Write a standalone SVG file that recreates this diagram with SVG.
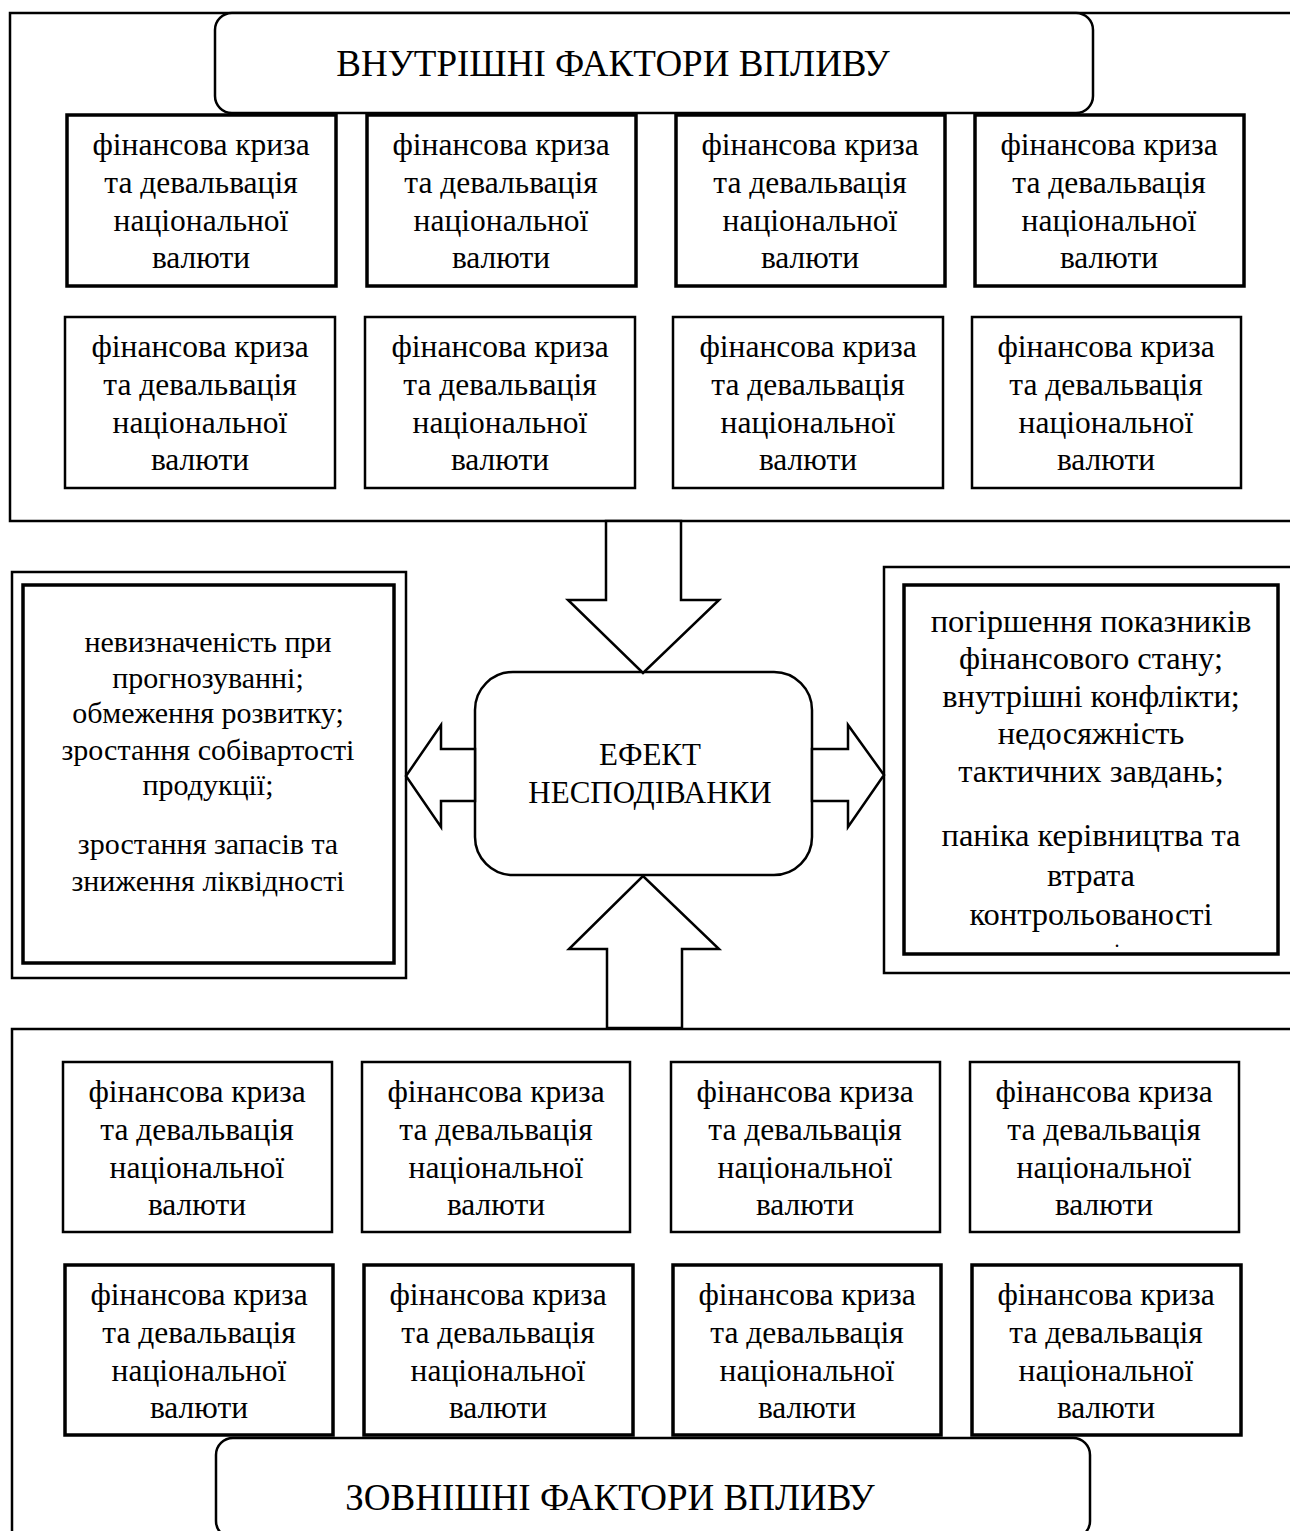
<svg xmlns="http://www.w3.org/2000/svg" width="1290" height="1531" viewBox="0 0 1290 1531">
<style>
.ln{fill:none;stroke:#000;stroke-width:2.5}
.bx{fill:#fff;stroke:#000;stroke-width:2.5}
.bx3{fill:#fff;stroke:#000;stroke-width:3.5}
.ar{fill:#fff;stroke:#000;stroke-width:2.5;stroke-linejoin:miter}
text{font-family:'Liberation Serif','DejaVu Serif',serif;fill:#000;text-anchor:middle}
.t{font-size:31.5px}
.l{font-size:30px}
.r{font-size:32.5px}
.h{font-size:37px}
.c{font-size:31px}
.d{font-size:20px}
</style>
<rect width="1290" height="1531" fill="#fff"/>
<g id="internal-frame">
<path class="ln" d="M1300,13 H10 V521 H1300"/>
</g>
<g id="internal-title">
<rect class="bx" x="215" y="13" width="878" height="100" rx="17"/>
<text class="h" x="613" y="76">ВНУТРІШНІ ФАКТОРИ ВПЛИВУ</text>
</g>
<g id="in1"><rect class="bx3" x="67" y="115" width="269" height="171"/><text class="t"><tspan x="201" y="155">фінансова криза</tspan><tspan x="201" y="193">та девальвація</tspan><tspan x="201" y="231">національної</tspan><tspan x="201" y="268">валюти</tspan></text></g>
<g id="in2"><rect class="bx3" x="367" y="115" width="269" height="171"/><text class="t"><tspan x="501" y="155">фінансова криза</tspan><tspan x="501" y="193">та девальвація</tspan><tspan x="501" y="231">національної</tspan><tspan x="501" y="268">валюти</tspan></text></g>
<g id="in3"><rect class="bx3" x="676" y="115" width="269" height="171"/><text class="t"><tspan x="810" y="155">фінансова криза</tspan><tspan x="810" y="193">та девальвація</tspan><tspan x="810" y="231">національної</tspan><tspan x="810" y="268">валюти</tspan></text></g>
<g id="in4"><rect class="bx3" x="975" y="115" width="269" height="171"/><text class="t"><tspan x="1109" y="155">фінансова криза</tspan><tspan x="1109" y="193">та девальвація</tspan><tspan x="1109" y="231">національної</tspan><tspan x="1109" y="268">валюти</tspan></text></g>
<g id="in5"><rect class="bx" x="65" y="317" width="270" height="171"/><text class="t"><tspan x="200" y="357">фінансова криза</tspan><tspan x="200" y="395">та девальвація</tspan><tspan x="200" y="433">національної</tspan><tspan x="200" y="470">валюти</tspan></text></g>
<g id="in6"><rect class="bx" x="365" y="317" width="270" height="171"/><text class="t"><tspan x="500" y="357">фінансова криза</tspan><tspan x="500" y="395">та девальвація</tspan><tspan x="500" y="433">національної</tspan><tspan x="500" y="470">валюти</tspan></text></g>
<g id="in7"><rect class="bx" x="673" y="317" width="270" height="171"/><text class="t"><tspan x="808" y="357">фінансова криза</tspan><tspan x="808" y="395">та девальвація</tspan><tspan x="808" y="433">національної</tspan><tspan x="808" y="470">валюти</tspan></text></g>
<g id="in8"><rect class="bx" x="972" y="317" width="269" height="171"/><text class="t"><tspan x="1106" y="357">фінансова криза</tspan><tspan x="1106" y="395">та девальвація</tspan><tspan x="1106" y="433">національної</tspan><tspan x="1106" y="470">валюти</tspan></text></g>

<g id="left-effects">
<rect class="bx" x="12" y="572" width="394" height="406"/>
<rect class="bx3" x="23" y="585" width="371" height="378"/>
<text class="l"><tspan x="208" y="652">невизначеність при</tspan><tspan x="208" y="688">прогнозуванні;</tspan><tspan x="208" y="723">обмеження розвитку;</tspan><tspan x="208" y="760">зростання собівартості</tspan><tspan x="208" y="795">продукції;</tspan><tspan x="208" y="854">зростання запасів та</tspan><tspan x="208" y="891">зниження ліквідності</tspan></text>
</g>
<g id="right-effects">
<path class="ln" d="M1300,567 H884 V973 H1300"/>
<rect class="bx3" x="904" y="585" width="374" height="369"/>
<text class="r"><tspan x="1091" y="632">погіршення показників</tspan><tspan x="1091" y="669">фінансового стану;</tspan><tspan x="1091" y="707">внутрішні конфлікти;</tspan><tspan x="1091" y="744">недосяжність</tspan><tspan x="1091" y="782">тактичних завдань;</tspan><tspan x="1091" y="846">паніка керівництва та</tspan><tspan x="1091" y="886">втрата</tspan><tspan x="1091" y="925">контрольованості</tspan></text>
<text class="d" x="1117" y="947">.</text>
</g>
<g id="surprise-effect">
<rect class="bx" x="475" y="672" width="337" height="203" rx="38"/>
<text class="c"><tspan x="650" y="765">ЕФЕКТ</tspan><tspan x="650" y="803">НЕСПОДІВАНКИ</tspan></text>
</g>

<g id="connectors">
<polygon class="ar" points="606,521 681,521 681,600 719,600 643,673 568,600 606,600"/>
<polygon class="ar" points="607,1028 682,1028 682,949 719,949 643,876 569,949 607,949"/>
<polygon class="ar" points="475,749 441,749 441,725 406,776 441,827 441,801 475,801"/>
<polygon class="ar" points="812,749 848,749 848,725 884,775 848,827 848,801 812,801"/>
</g>

<g id="external-frame">
<path class="ln" d="M1300,1029 H12 V1545"/>
</g>
<g id="ex1"><rect class="bx" x="63" y="1062" width="269" height="170"/><text class="t"><tspan x="197" y="1102">фінансова криза</tspan><tspan x="197" y="1140">та девальвація</tspan><tspan x="197" y="1178">національної</tspan><tspan x="197" y="1215">валюти</tspan></text></g>
<g id="ex2"><rect class="bx" x="362" y="1062" width="268" height="170"/><text class="t"><tspan x="496" y="1102">фінансова криза</tspan><tspan x="496" y="1140">та девальвація</tspan><tspan x="496" y="1178">національної</tspan><tspan x="496" y="1215">валюти</tspan></text></g>
<g id="ex3"><rect class="bx" x="671" y="1062" width="269" height="170"/><text class="t"><tspan x="805" y="1102">фінансова криза</tspan><tspan x="805" y="1140">та девальвація</tspan><tspan x="805" y="1178">національної</tspan><tspan x="805" y="1215">валюти</tspan></text></g>
<g id="ex4"><rect class="bx" x="970" y="1062" width="269" height="170"/><text class="t"><tspan x="1104" y="1102">фінансова криза</tspan><tspan x="1104" y="1140">та девальвація</tspan><tspan x="1104" y="1178">національної</tspan><tspan x="1104" y="1215">валюти</tspan></text></g>
<g id="ex5"><rect class="bx3" x="65" y="1265" width="268" height="170"/><text class="t"><tspan x="199" y="1305">фінансова криза</tspan><tspan x="199" y="1343">та девальвація</tspan><tspan x="199" y="1381">національної</tspan><tspan x="199" y="1418">валюти</tspan></text></g>
<g id="ex6"><rect class="bx3" x="364" y="1265" width="269" height="170"/><text class="t"><tspan x="498" y="1305">фінансова криза</tspan><tspan x="498" y="1343">та девальвація</tspan><tspan x="498" y="1381">національної</tspan><tspan x="498" y="1418">валюти</tspan></text></g>
<g id="ex7"><rect class="bx3" x="673" y="1265" width="268" height="170"/><text class="t"><tspan x="807" y="1305">фінансова криза</tspan><tspan x="807" y="1343">та девальвація</tspan><tspan x="807" y="1381">національної</tspan><tspan x="807" y="1418">валюти</tspan></text></g>
<g id="ex8"><rect class="bx3" x="972" y="1265" width="269" height="170"/><text class="t"><tspan x="1106" y="1305">фінансова криза</tspan><tspan x="1106" y="1343">та девальвація</tspan><tspan x="1106" y="1381">національної</tspan><tspan x="1106" y="1418">валюти</tspan></text></g>
<g id="external-title">
<rect class="bx" x="216" y="1438" width="874" height="100" rx="17"/>
<text class="h" x="610" y="1510">ЗОВНІШНІ ФАКТОРИ ВПЛИВУ</text>
</g>
</svg>
